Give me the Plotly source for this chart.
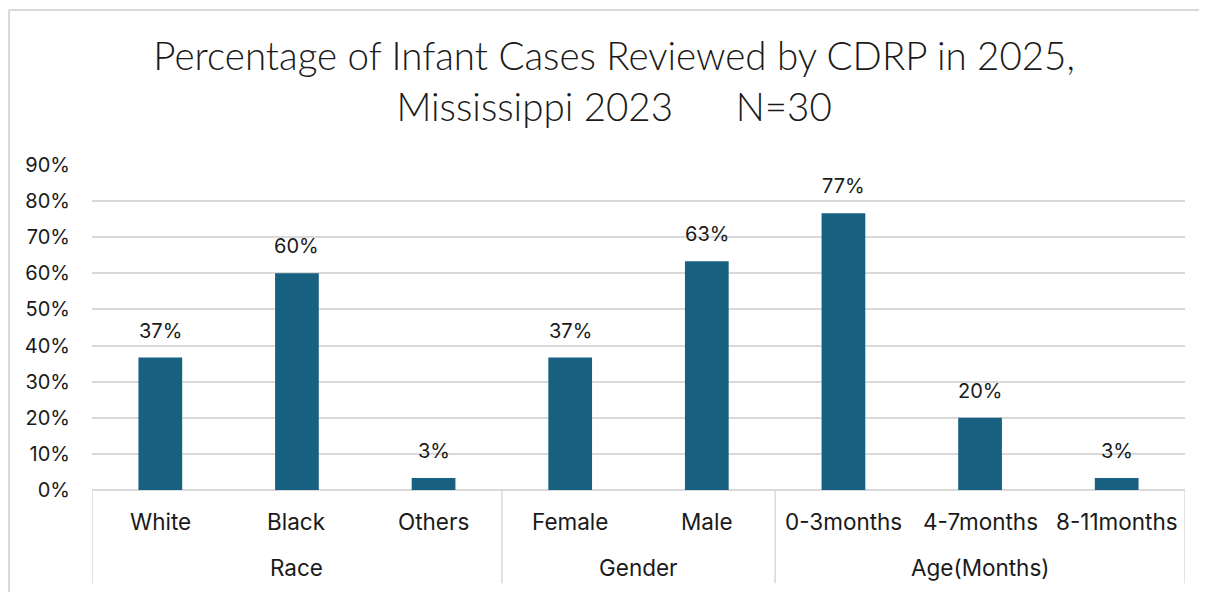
import plotly.graph_objects as go

categories = ["White", "Black", "Others", "Female", "Male", "0-3months", "4-7months", "8-11months"]
values = [11/30, 18/30, 1/30, 11/30, 19/30, 23/30, 6/30, 1/30]
groups = ["Race", "Gender", "Age(Months)"]
group_sizes = [3, 2, 3]
y_ticks = [0, 0.1, 0.2, 0.3, 0.4, 0.5, 0.6, 0.7, 0.8, 0.9]

BAR = "#17607f"
GRID = "#d9d9d9"
TXT = "#1a1a1a"
LABEL_FONT = "Inter, Liberation Sans, Arial, sans-serif"
TITLE_FONT = "Lato, Open Sans, sans-serif"

x_idx = list(range(len(categories)))

fig = go.Figure()
fig.add_trace(go.Bar(
    x=x_idx, y=values, marker=dict(color=BAR, line=dict(width=0)),
    width=0.32, hoverinfo="skip", showlegend=False,
))

# value labels
for xi, v in zip(x_idx, values):
    fig.add_annotation(x=xi, y=v, xref="x", yref="y", text=f"{round(v*100):d}%",
                       showarrow=False, yanchor="bottom", yshift=13,
                       font=dict(size=20, color=TXT, family=LABEL_FONT))

# category labels
for xi, c in zip(x_idx, categories):
    fig.add_annotation(x=xi, y=0, xref="x", yref="y", text=c, showarrow=False,
                       yanchor="middle", yshift=-31,
                       font=dict(size=22.5, color=TXT, family=LABEL_FONT))

# group labels and dividers
start = 0
bounds = [-0.5]
for g, n in zip(groups, group_sizes):
    center = start + (n - 1) / 2
    fig.add_annotation(x=center, y=0, xref="x", yref="y", text=g, showarrow=False,
                       yanchor="middle", yshift=-77,
                       font=dict(size=22.5, color=TXT, family=LABEL_FONT))
    start += n
    bounds.append(start - 0.5)

for b in bounds:
    fig.add_shape(type="line", xref="x", yref="paper", x0=b, x1=b, y0=0, y1=-0.287,
                  line=dict(color=GRID, width=1.5), layer="below")

# outer chart border (top and left edges visible in the crop)
fig.add_shape(type="line", xref="paper", yref="paper", x0=-0.0759, x1=1.03,
              y0=1.477, y1=1.477, line=dict(color=GRID, width=2), layer="below")
fig.add_shape(type="line", xref="paper", yref="paper", x0=-0.0759, x1=-0.0759,
              y0=-0.4, y1=1.477, line=dict(color=GRID, width=2), layer="below")

fig.update_layout(
    width=1199, height=584,
    margin=dict(l=84, r=22, t=157, b=102, autoexpand=False),
    paper_bgcolor="white", plot_bgcolor="white",
    bargap=0.68,
    title=dict(
        text="Percentage of Infant Cases Reviewed by CDRP in 2025,<br>Mississippi 2023" + "\u00a0" * 6 + "N=30",
        x=0.5055, xanchor="center", y=0.893, yanchor="middle",
        font=dict(size=38.5, color=TXT, family=TITLE_FONT, weight=300),
    ),
    xaxis=dict(range=[-0.5, 7.5], showticklabels=False, showgrid=False,
               zeroline=False, showline=False, fixedrange=True),
    yaxis=dict(range=[0, 0.9], tickvals=y_ticks, tickformat=".0%",
               showgrid=True, gridcolor=GRID, gridwidth=1.5,
               zeroline=True, zerolinecolor=GRID, zerolinewidth=1.5,
               showline=False, ticks="", ticklabelstandoff=21,
               tickfont=dict(size=20, color=TXT, family=LABEL_FONT)),
)

fig.write_html("out.html")
